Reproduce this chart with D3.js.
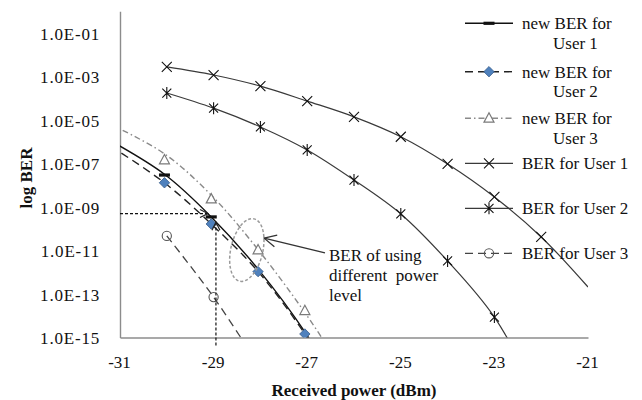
<!DOCTYPE html>
<html>
<head>
<meta charset="utf-8">
<script src="https://cdn.jsdelivr.net/npm/d3@7"></script>
<style>
  body { margin: 0; background: #fff; }
  svg text { font-family: "Liberation Serif", "Times New Roman", Times, "DejaVu Serif", serif; }
</style>
</head>
<body>
<svg id="chart" width="642" height="400"></svg>
<script>
// Received optical power (dBm) and measured bit error rates
const powerDbm = [-30, -29, -28, -27, -26, -25, -24, -23, -22, -21];
const berUser1 = [2.75e-3, 1.17e-3, 3.6e-4, 7.4e-5, 1.4e-5, 1.7e-6, 9.5e-8, 2.9e-9, 4.2e-11, 2.1e-13];
const berUser2 = [1.74e-4, 3.5e-5, 4.8e-6, 4.2e-7, 1.74e-8, 4.8e-10, 3.3e-12, 8.7e-15, 1e-18, 3e-23];
const powerUser3 = [-30, -29, -28];
const berUser3 = [4.7e-11, 7.2e-14, 4e-17];

// BER with adjusted power levels (measured points)
const powerNew = [-30.05, -29.05, -28.05, -27.05];
const newBerUser1 = [2.95e-8, 3.5e-10];
const newBerUser2 = [1.3e-8, 1.66e-10, 1.07e-12, 1.45e-15];
const newBerUser3 = [1.45e-7, 2.3e-9, 1.05e-11, 1.7e-14];

// fitted curves drawn through the adjusted-power results
const powerFit = [-31.2, -30.05, -29.05, -28.05, -27.05, -26.3];
const fitUser1 = [1.1e-6, 3.2e-8, 3.5e-10, 1.4e-12, 1.8e-15, 3e-18];
const fitUser2 = [6.3e-7, 1.3e-8, 1.66e-10, 1.07e-12, 1.45e-15, 3e-18];
const fitUser3 = [6.3e-6, 2.8e-7, 3.5e-9, 1.1e-11, 1.4e-14, 5e-17];

// axis ticks
const xTicks = [-31, -29, -27, -25, -23, -21];
const yTicks = [1e-15, 1e-13, 1e-11, 1e-9, 1e-7, 1e-5, 1e-3, 1e-1];

// guide lines and callout
const guideBer = 5e-10;
const guidePower = -28.95;
const calloutLines = ["BER of using", "different  power", "level"];

const FONT = '"Liberation Serif", "Times New Roman", Times, "DejaVu Serif", serif';
const svg = d3.select("#chart");
const plot = { left: 120, right: 588, top: 11.25, bottom: 337.5 };

const x = d3.scaleLinear().domain([-31, -21]).range([plot.left, plot.right]);
const y = d3.scaleLog().domain([1e-15, 1]).range([plot.bottom, plot.top]);

const defs = svg.append("defs");
defs.append("clipPath").attr("id", "plotClip")
  .append("rect")
  .attr("x", plot.left).attr("y", plot.top)
  .attr("width", plot.right - plot.left).attr("height", plot.bottom - plot.top);

defs.append("marker").attr("id", "openArrow")
  .attr("viewBox", "0 0 10 10").attr("refX", 9).attr("refY", 5)
  .attr("markerWidth", 10).attr("markerHeight", 10)
  .attr("markerUnits", "userSpaceOnUse").attr("orient", "auto")
  .append("path").attr("d", "M1,1 L9,5 L1,9")
  .attr("fill", "none").attr("stroke", "#222").attr("stroke-width", 1.2);

defs.append("marker").attr("id", "bigArrow")
  .attr("viewBox", "0 0 14 14").attr("refX", 13).attr("refY", 7)
  .attr("markerWidth", 14).attr("markerHeight", 14)
  .attr("markerUnits", "userSpaceOnUse").attr("orient", "auto")
  .append("path").attr("d", "M1,1 L13,7 L1,13")
  .attr("fill", "none").attr("stroke", "#333").attr("stroke-width", 1.3);

// marker shapes
const shapes = {
  dash: g => g.append("rect").attr("x", -5.5).attr("y", -1.6).attr("width", 11).attr("height", 3.2)
    .attr("fill", "#111"),
  diamond: g => g.append("path").attr("d", "M0,-5.2L5.2,0L0,5.2L-5.2,0Z")
    .attr("fill", "#4f81bd").attr("stroke", "#385d8a").attr("stroke-width", 0.8),
  triangle: g => g.append("path").attr("d", "M0,-5.5L5,3.8L-5,3.8Z")
    .attr("fill", "#fff").attr("stroke", "#7a7a7a").attr("stroke-width", 1.2),
  cross: g => g.append("path").attr("d", "M-5,-5L5,5M-5,5L5,-5")
    .attr("stroke", "#111").attr("stroke-width", 1.1).attr("fill", "none"),
  star: g => g.append("path").attr("d", "M-4.5,-4.5L4.5,4.5M-4.5,4.5L4.5,-4.5M0,-6V6")
    .attr("stroke", "#111").attr("stroke-width", 1.1).attr("fill", "none"),
  circle: g => g.append("circle").attr("r", 4.6)
    .attr("fill", "none").attr("stroke", "#555").attr("stroke-width", 1.1)
};

const series = [
  { name: ["new BER for", "User 1"], line: { xs: powerFit, ys: fitUser1 }, pts: { xs: powerNew, ys: newBerUser1 },
    stroke: "#111", width: 1.4, dash: null, shape: "dash" },
  { name: ["new BER for", "User 2"], line: { xs: powerFit, ys: fitUser2 }, pts: { xs: powerNew, ys: newBerUser2 },
    stroke: "#222", width: 1.4, dash: "8,5", shape: "diamond" },
  { name: ["new BER for", "User 3"], line: { xs: powerFit, ys: fitUser3 }, pts: { xs: powerNew, ys: newBerUser3 },
    stroke: "#8a8a8a", width: 1.4, dash: "6,3,1.5,3", shape: "triangle" },
  { name: ["BER for User 1"], line: { xs: powerDbm, ys: berUser1 }, pts: { xs: powerDbm, ys: berUser1 },
    stroke: "#3a3a3a", width: 1.2, dash: null, shape: "cross" },
  { name: ["BER for User 2"], line: { xs: powerDbm, ys: berUser2 }, pts: { xs: powerDbm, ys: berUser2 },
    stroke: "#3a3a3a", width: 1.2, dash: null, shape: "star" },
  { name: ["BER for User 3"], line: { xs: powerUser3, ys: berUser3 }, pts: { xs: powerUser3, ys: berUser3 },
    stroke: "#444", width: 1.3, dash: "8,5", shape: "circle" }
];

// axes
const axisColor = "#8c8c8c";
const yAxis = svg.append("g").attr("transform", `translate(${plot.left},0)`)
  .call(d3.axisLeft(y).tickValues(yTicks).tickSize(0).tickSizeOuter(0).tickPadding(20)
    .tickFormat(d => "1.0E-" + String(Math.round(-Math.log10(d))).padStart(2, "0")));
const xAxis = svg.append("g").attr("transform", `translate(0,${plot.bottom})`)
  .call(d3.axisBottom(x).tickValues(xTicks).tickSize(0).tickSizeOuter(0).tickPadding(18.5)
    .tickFormat(d => String(d)));
[yAxis, xAxis].forEach(a => {
  a.attr("font-family", FONT).attr("font-size", 17);
  a.select(".domain").attr("stroke", axisColor).attr("stroke-width", 1.4);
  a.selectAll("text").style("font-family", FONT).attr("font-size", 17).attr("fill", "#111");
});
yAxis.selectAll("text").attr("letter-spacing", "0.8px").attr("dy", "0.36em");
xAxis.selectAll("text").attr("x", -1);

// axis titles
svg.append("text").attr("transform", `translate(32,178) rotate(-90)`)
  .attr("text-anchor", "middle").attr("font-weight", "bold").attr("font-size", 17).attr("fill", "#111")
  .style("font-family", FONT).text("log BER");
svg.append("text").attr("x", (plot.left + plot.right) / 2).attr("y", 396)
  .attr("text-anchor", "middle").attr("font-weight", "bold").attr("font-size", 17).attr("fill", "#111")
  .style("font-family", FONT).text("Received power (dBm)");

// curves and markers
const lineGen = d3.line().x(d => x(d[0])).y(d => y(d[1])).curve(d3.curveCatmullRom.alpha(0.5));
const plotG = svg.append("g").attr("clip-path", "url(#plotClip)");

series.forEach(s => {
  const pts = s.line.xs.map((p, i) => [p, s.line.ys[i]]);
  plotG.append("path").attr("d", lineGen(pts))
    .attr("fill", "none").attr("stroke", s.stroke).attr("stroke-width", s.width)
    .attr("stroke-dasharray", s.dash);
});

series.forEach(s => {
  s.pts.ys.forEach((v, i) => {
    const p = s.pts.xs[i];
    // points at or beyond the plot edges carry no marker
    if (p <= -31 || p >= -21 || v < 1e-15) return;
    const g = plotG.append("g").attr("transform", `translate(${x(p)},${y(v)})`);
    shapes[s.shape](g);
  });
});

// dotted guide lines marking the operating point
svg.append("line")
  .attr("x1", x(-31)).attr("y1", y(guideBer)).attr("x2", x(-29.12)).attr("y2", y(guideBer))
  .attr("stroke", "#111").attr("stroke-width", 1.2).attr("stroke-dasharray", "3,2")
  .attr("marker-end", "url(#openArrow)");
svg.append("line")
  .attr("x1", x(guidePower)).attr("y1", plot.bottom + 8).attr("x2", x(guidePower)).attr("y2", y(2e-10))
  .attr("stroke", "#111").attr("stroke-width", 1.2).attr("stroke-dasharray", "3,2")
  .attr("marker-end", "url(#openArrow)");

// highlight ellipse around the adjusted-power points
svg.append("ellipse")
  .attr("transform", `translate(${x(-28.29)},${y(1.05e-11)}) rotate(13)`)
  .attr("rx", 16).attr("ry", 32)
  .attr("fill", "none").attr("stroke", "#9a9a9a").attr("stroke-width", 1.5).attr("stroke-dasharray", "3,2");

// callout
const cStart = [x(-26.62), y(7.7e-12)];
const cEnd = [x(-27.92), y(3.7e-11)];
svg.append("line")
  .attr("x1", cStart[0]).attr("y1", cStart[1]).attr("x2", cEnd[0]).attr("y2", cEnd[1])
  .attr("stroke", "#333").attr("stroke-width", 1.3).attr("marker-end", "url(#bigArrow)");
svg.append("g").selectAll("text").data(calloutLines).join("text")
  .attr("x", cStart[0] + 4).attr("y", (d, i) => cStart[1] + 8 + i * 20)
  .attr("font-size", 17).attr("fill", "#111").style("white-space", "pre").style("font-family", FONT)
  .text(d => d);

// legend
const legendRows = [23.3, 71.7, 118.3, 163.3, 208.3, 253.3];
const legend = svg.append("g");
series.forEach((s, i) => {
  const cy = legendRows[i];
  const row = legend.append("g");
  row.append("line").attr("x1", 465).attr("x2", 513).attr("y1", cy).attr("y2", cy)
    .attr("stroke", s.stroke).attr("stroke-width", s.width).attr("stroke-dasharray", s.dash);
  shapes[s.shape](row.append("g").attr("transform", `translate(489,${cy})`));
  s.name.forEach((t, j) => {
    row.append("text").attr("x", j === 0 ? 522 : 553).attr("y", cy + 6 + j * 19.5)
      .attr("font-size", 17).attr("fill", "#111").style("font-family", FONT).text(t);
  });
});
</script>
</body>
</html>
